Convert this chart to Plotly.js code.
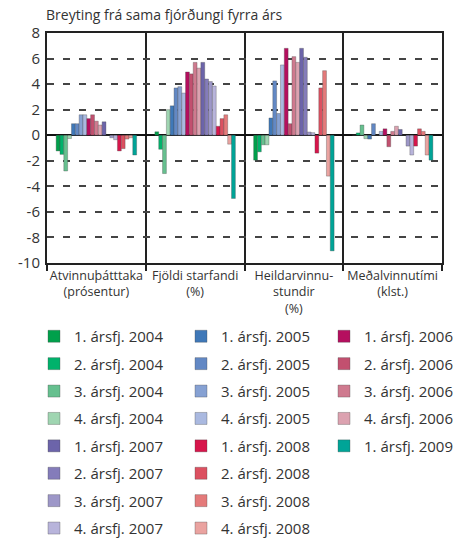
<!DOCTYPE html>
<html><head><meta charset="utf-8">
<script src="https://cdn.plot.ly/plotly-3.0.1.min.js"></script>
<style>html,body{margin:0;padding:0;background:#fff}#chart{width:465px;height:538px}</style>
</head><body><div id="chart"></div>
<script>
const categories = ["Atvinnuþátttaka<br>(prósentur)", "Fjöldi starfandi<br>(%)", "Heildarvinnu-<br>stundir<br>(%)", "Meðalvinnutími<br>(klst.)"];

const seriesNames = [
  "1. ársfj. 2004", "2. ársfj. 2004", "3. ársfj. 2004", "4. ársfj. 2004",
  "1. ársfj. 2005", "2. ársfj. 2005", "3. ársfj. 2005", "4. ársfj. 2005",
  "1. ársfj. 2006", "2. ársfj. 2006", "3. ársfj. 2006", "4. ársfj. 2006",
  "1. ársfj. 2007", "2. ársfj. 2007", "3. ársfj. 2007", "4. ársfj. 2007",
  "1. ársfj. 2008", "2. ársfj. 2008", "3. ársfj. 2008", "4. ársfj. 2008",
  "1. ársfj. 2009"
];

const seriesColors = [
  "#00a04b", "#00b26b", "#66c08f", "#9fd5b1",
  "#3f78b8", "#6288c4", "#86a1d3", "#aab9e0",
  "#b50f5f", "#c2506f", "#cf7a8f", "#dca2b0",
  "#6c64aa", "#847cba", "#9d97c8", "#b8b4db",
  "#d7154b", "#dc5060", "#e47a7a", "#eaa3a0",
  "#00a497"
];

// values per series (same order as seriesNames), one array per category
const atvinnuthatttaka = [-1.23, -1.5, -2.8, -0.26, 0.9, 0.9, 1.6, 1.6, 1.3, 1.6, 1.1, 0.8, 1.05, 0.0, -0.2, -0.35, -1.23, -1.05, -0.3, -0.2, -1.55];
const fjoldiStarfandi = [0.27, -1.1, -3.0, 2.0, 2.3, 3.7, 3.8, 3.3, 4.95, 4.8, 5.7, 5.25, 5.7, 4.4, 4.2, 3.85, 0.7, 1.3, 1.6, -0.7, -4.95];
const heildarvinnustundir = [-1.95, -1.3, -0.75, -0.75, 1.35, 4.25, 1.7, 5.5, 6.8, 0.9, 6.15, 5.7, 6.8, 6.1, 0.25, 0.2, -1.4, 3.7, 5.05, -3.2, -9.05];
const medalvinnutimi = [0.0, 0.18, 0.8, -0.27, -0.3, 0.9, 0.0, 0.3, 0.5, -0.9, 0.3, 0.7, 0.45, 0.0, -0.85, -1.55, -0.85, 0.5, 0.3, -1.55, -1.95];

const yTickVals = [-10, -8, -6, -4, -2, 0, 2, 4, 6, 8];
const titleText = "Breyting frá sama fjórðungi fyrra árs";

const FONT = "Open Sans, Noto Sans, sans-serif";
const legendFor = ["legend", "legend2", "legend3"];

const traces = seriesNames.map((name, i) => {
  const year = parseInt(name.slice(-4), 10);
  const col = (year - 2004) % 3;
  return {
    type: "bar",
    name: name,
    x: categories,
    y: [atvinnuthatttaka[i], fjoldiStarfandi[i], heildarvinnustundir[i], medalvinnutimi[i]],
    marker: {color: seriesColors[i], line: {color: "rgba(70,70,70,0.55)", width: 0.6}},
    legend: legendFor[col],
    legendgroup: name,
    hoverinfo: "name+y"
  };
});

const legendBase = {
  orientation: "v",
  xref: "container", yref: "container",
  xanchor: "left", yanchor: "top",
  y: 1 - 320 / 538,
  bgcolor: "rgba(0,0,0,0)",
  font: {family: FONT, size: 15, color: "#333"},
  traceorder: "grouped",
  tracegroupgap: 4.9,
  itemwidth: 30
};

const layout = {
  width: 465, height: 538,
  paper_bgcolor: "#fff", plot_bgcolor: "#fff",
  margin: {l: 47, r: 23, t: 33, b: 275, autoexpand: false},
  font: {family: FONT, color: "#333"},
  title: {
    text: titleText,
    font: {family: FONT, size: 14, color: "#333"},
    xref: "container", yref: "container",
    x: 46 / 465, xanchor: "left",
    y: 1 - 15 / 538, yanchor: "middle"
  },
  barmode: "group",
  bargap: 0.185,
  bargroupgap: 0,
  showlegend: true,
  xaxis: {
    type: "category",
    tickson: "boundaries",
    tickangle: 0,
    showgrid: true, gridcolor: "#222", gridwidth: 2,
    ticks: "outside", ticklen: 6, tickcolor: "#222", tickwidth: 2,
    showline: true, linecolor: "#222", linewidth: 2, mirror: true,
    tickfont: {family: FONT, size: 12.5, color: "#333"},
    fixedrange: true
  },
  yaxis: {
    range: [-10, 8],
    tickvals: yTickVals,
    ticktext: yTickVals.map(String),
    showgrid: true, gridcolor: "#444", gridwidth: 1.5, griddash: "7px,9px",
    zeroline: true, zerolinecolor: "#111", zerolinewidth: 2,
    showline: true, linecolor: "#222", linewidth: 2, mirror: true,
    ticks: "outside", ticklen: 2, tickcolor: "rgba(0,0,0,0)",
    tickfont: {family: FONT, size: 15, color: "#333"},
    fixedrange: true
  },
  legend: Object.assign({}, legendBase, {x: 34 / 465}),
  legend2: Object.assign({}, legendBase, {x: 181 / 465}),
  legend3: Object.assign({}, legendBase, {x: 324 / 465})
};

Plotly.newPlot("chart", traces, layout, {displayModeBar: false, responsive: false});
</script>
</body></html>
